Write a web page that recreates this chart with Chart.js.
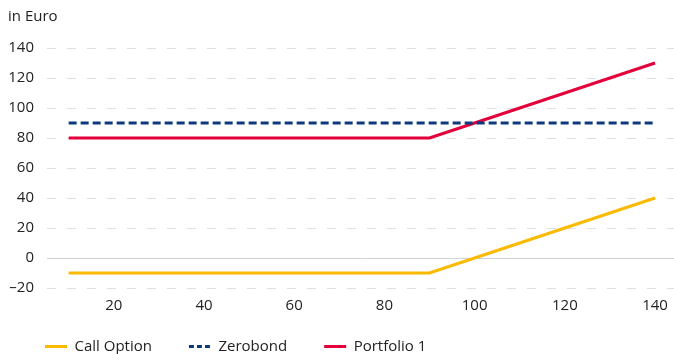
<!DOCTYPE html>
<html>
<head>
<meta charset="utf-8">
<script src="https://cdn.jsdelivr.net/npm/chart.js@4/dist/chart.umd.min.js"></script>
<style>
  html, body { margin: 0; padding: 0; background: #fff; }
  #wrap { width: 674px; height: 354px; }
</style>
</head>
<body>
<div id="wrap"><canvas id="chart1" width="674" height="354"></canvas></div>
<script>
// underlying price
const xValues = [10, 20, 30, 40, 50, 60, 70, 80, 90, 100, 110, 120, 130, 140]
const callOption = [-10, -10, -10, -10, -10, -10, -10, -10, -10, 0, 10, 20, 30, 40]
const zerobond = [90, 90, 90, 90, 90, 90, 90, 90, 90, 90, 90, 90, 90, 90]
const portfolio1 = [80, 80, 80, 80, 80, 80, 80, 80, 80, 90, 100, 110, 120, 130]
const xTicks = [20, 40, 60, 80, 100, 120, 140]
const seriesNames = ['Call Option', 'Zerobond', 'Portfolio 1']

const toPoints = arr => arr.map((v, i) => ({ x: xValues[i], y: v }))

const fontFamily = '"Open Sans", "Noto Sans", sans-serif'
const textColor = '#222'

// moves the legend row down, it overlaps the empty bottom of the x axis box
const legendShift = {
    id: 'legendShift',
    afterLayout(chart) {
        chart.legend.top = 302
    }
}

const ctx = document.querySelector('#chart1').getContext('2d')
const chart1 = new Chart(ctx, {
    type: 'line',
    data: {
        datasets: [{
            label: seriesNames[0],
            data: toPoints(callOption),
            borderColor: '#fbba00',
            backgroundColor: '#fbba00',
            borderWidth: 3,
            pointRadius: 0,
            tension: 0
        }, {
            label: seriesNames[1],
            data: toPoints(zerobond),
            borderColor: '#0b3b7d',
            backgroundColor: '#0b3b7d',
            borderWidth: 3,
            borderDash: [8, 4],
            pointRadius: 0,
            tension: 0
        }, {
            label: seriesNames[2],
            data: toPoints(portfolio1),
            borderColor: '#e3003b',
            backgroundColor: '#e3003b',
            borderWidth: 3,
            pointRadius: 0,
            tension: 0
        }]
    },
    options: {
        responsive: false,
        animation: false,
        devicePixelRatio: 1,
        layout: {
            padding: { left: 8, right: 0, top: 0, bottom: 0 }
        },
        scales: {
            x: {
                type: 'linear',
                min: 5.2,
                max: 144.2,
                afterBuildTicks: scale => {
                    scale.ticks = xTicks.map(v => ({ value: v }))
                },
                afterFit: scale => {
                    scale.height = 30
                },
                grid: { display: false },
                border: { display: false },
                ticks: {
                    padding: 1,
                    color: textColor,
                    font: { family: fontFamily, size: 15 }
                }
            },
            y: {
                min: -20,
                max: 140,
                afterFit: scale => {
                    scale.width = 39
                },
                grid: {
                    drawTicks: false,
                    lineWidth: 1,
                    color: c => c.tick && c.tick.value === 0 ? '#cdd3d8' : '#dbe0e5'
                },
                border: {
                    display: false,
                    dash: c => c.tick && c.tick.value === 0 ? [] : [9, 11]
                },
                ticks: {
                    stepSize: 20,
                    padding: 13,
                    color: textColor,
                    font: { family: fontFamily, size: 15 },
                    callback: v => String(v).replace('-', '\u2013')
                }
            }
        },
        plugins: {
            title: {
                display: true,
                text: 'in Euro',
                align: 'start',
                color: textColor,
                font: { family: fontFamily, size: 15, weight: 'normal' },
                padding: { top: 8, bottom: 22 }
            },
            legend: {
                display: true,
                position: 'bottom',
                align: 'start',
                maxHeight: 36,
                labels: {
                    usePointStyle: true,
                    pointStyle: 'line',
                    pointStyleWidth: 22,
                    boxHeight: 3,
                    padding: 37,
                    color: textColor,
                    font: { family: fontFamily, size: 15 },
                    generateLabels: chart => {
                        const items = Chart.defaults.plugins.legend.labels.generateLabels(chart)
                        items.forEach(item => {
                            const ds = chart.data.datasets[item.datasetIndex]
                            if (ds.borderDash) item.lineDash = [5, 3]
                        })
                        return items
                    }
                }
            },
            tooltip: { enabled: false }
        }
    },
    plugins: [legendShift]
})
</script>
</body>
</html>
